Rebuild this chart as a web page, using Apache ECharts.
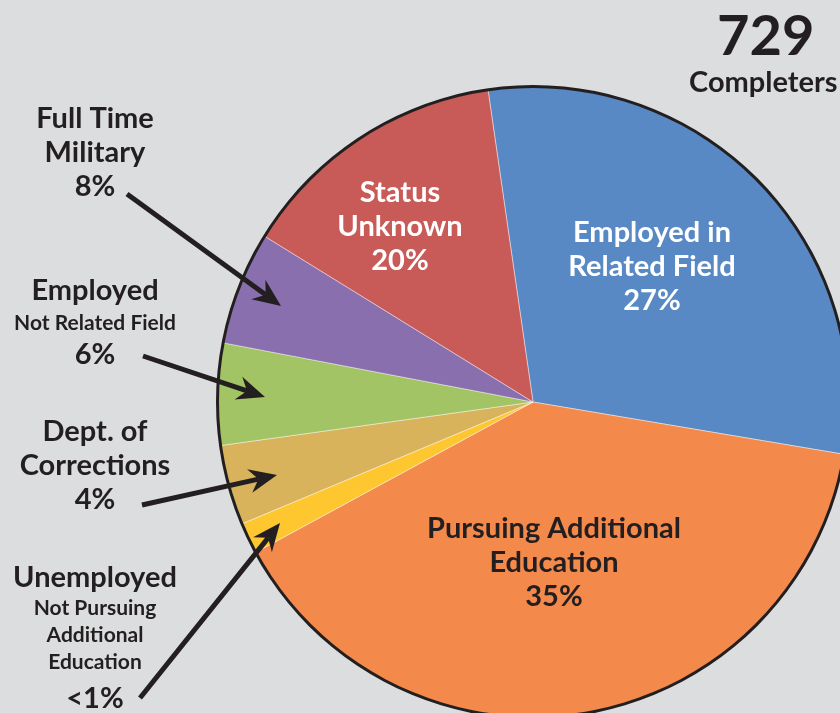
<!DOCTYPE html>
<html>
<head>
<meta charset="utf-8">
<title>729 Completers</title>
<script src="https://cdn.jsdelivr.net/npm/echarts@6/dist/echarts.min.js"></script>
<style>
  html, body { margin: 0; padding: 0; background: #dcdddf; }
  #chart { width: 840px; height: 713px; }
</style>
</head>
<body>
<div id="chart"></div>
<script>
// slice order runs clockwise from the top (blue first)
const categories = ['Employed in\nRelated Field', 'Pursuing Additional\nEducation', 'Unemployed',
  'Dept. of\nCorrections', 'Employed', 'Full Time\nMilitary', 'Status\nUnknown']
const subLabels = ['', '', 'Not Pursuing\nAdditional\nEducation', '', 'Not Related Field', '', '']
const percentLabels = ['27%', '35%', '<1%', '4%', '6%', '8%', '20%']
// slice sizes (percent of the circle)
const sliceShares = [29.9, 39.4, 1.6, 4.1, 5.2, 5.8, 13.9]
const totalCompleters = '729'

const sliceColors = ['#5889c4', '#f4894c', '#fec62f', '#d8b35c', '#a2c464', '#8a6fae', '#c85a57']
const labelColors = ['#ffffff', '#231f20', '#231f20', '#231f20', '#231f20', '#231f20', '#ffffff']
// label block anchor (centre x, top y)
const labelX = [652, 554, 95, 95, 95, 95, 400]
const labelTop = [216, 512, 561, 415, 274, 102, 176]
// arrows from outside labels into their slices
const arrowFrom = [[127, 194], [143, 356], [142, 505], [140, 698]]
const arrowTo = [[281, 306], [265, 397], [277, 475], [280, 523]]

const chart = echarts.init(document.getElementById('chart'))

const formatLabel = function (params) {
  const i = params.dataIndex
  let parts = categories[i].split('\n').map(t => '{b|' + t + '}')
  if (subLabels[i]) {
    parts = parts.concat(subLabels[i].split('\n').map(t => (i === 2 ? '{s|' : '{t|') + t + '}'))
  }
  parts.push((i === 2 ? '{q|' : '{b|') + percentLabels[i] + '}')
  return parts.join('\n')
}

const arrowGraphic = function (from, to) {
  const dx = to[0] - from[0], dy = to[1] - from[1]
  const len = Math.sqrt(dx * dx + dy * dy)
  const ux = dx / len, uy = dy / len
  const px = -uy, py = ux
  const headLen = 28, headHalf = 12, notch = 19
  const bx = to[0] - ux * headLen, by = to[1] - uy * headLen
  const nx = to[0] - ux * notch, ny = to[1] - uy * notch
  return [
    {
      type: 'line',
      silent: true,
      z: 100,
      shape: { x1: from[0], y1: from[1], x2: nx, y2: ny },
      style: { stroke: '#231f20', lineWidth: 5 }
    },
    {
      type: 'polygon',
      silent: true,
      z: 100,
      shape: {
        points: [
          [to[0], to[1]],
          [bx + px * headHalf, by + py * headHalf],
          [nx, ny],
          [bx - px * headHalf, by - py * headHalf]
        ]
      },
      style: { fill: '#231f20' }
    }
  ]
}

let arrows = []
arrowFrom.forEach((f, k) => { arrows = arrows.concat(arrowGraphic(f, arrowTo[k])) })

const option = {
  backgroundColor: '#dcdddf',
  textStyle: { fontFamily: 'Lato', fontWeight: 'bold' },
  graphic: arrows.concat([
    {
      type: 'text',
      left: 717, top: 9,
      z: 100,
      style: { text: totalCompleters, font: 'bold 56px Lato', fill: '#231f20' }
    },
    {
      type: 'text',
      left: 689, top: 68,
      z: 100,
      style: { text: 'Completers', font: 'bold 29px Lato', fill: '#231f20' }
    }
  ]),
  series: [
    {
      name: 'Completers',
      type: 'pie',
      center: [533, 402],
      radius: 315,
      startAngle: 98.2,
      clockwise: true,
      silent: true,
      avoidLabelOverlap: false,
      itemStyle: { borderColor: 'rgba(255,255,255,0.55)', borderWidth: 0.8 },
      label: {
        show: true,
        position: 'outside',
        formatter: formatLabel,
        align: 'center',
        fontFamily: 'Lato',
        fontWeight: 'bold',
        rich: {
          b: { fontSize: 29, lineHeight: 34, fontWeight: 'bold', fontFamily: 'Lato' },
          t: { fontSize: 21, lineHeight: 30, fontWeight: 'bold', fontFamily: 'Lato' },
          s: { fontSize: 21, lineHeight: 27, fontWeight: 'bold', fontFamily: 'Lato' },
          q: { fontSize: 29, lineHeight: 45, fontWeight: 'bold', fontFamily: 'Lato' }
        }
      },
      labelLine: { show: false },
      labelLayout: function (params) {
        const i = params.dataIndex
        return { x: labelX[i], y: labelTop[i], align: 'center', verticalAlign: 'top', moveOverlap: null }
      },
      data: sliceShares.map((v, i) => ({
        name: categories[i],
        value: v,
        itemStyle: { color: sliceColors[i] },
        label: { color: labelColors[i] }
      }))
    },
    {
      name: 'outline',
      type: 'pie',
      center: [533, 402],
      radius: [314, 317],
      silent: true,
      label: { show: false },
      labelLine: { show: false },
      itemStyle: { color: '#231f20' },
      data: [{ name: 'outline', value: 1 }]
    }
  ]
}

chart.setOption(option)
</script>
</body>
</html>
